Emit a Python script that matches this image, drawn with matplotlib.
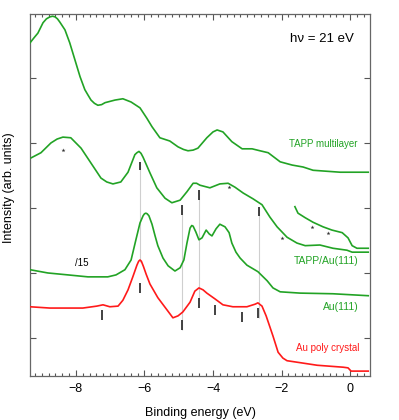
import numpy as np
import matplotlib.pyplot as plt
from matplotlib.ticker import MultipleLocator

plt.rcParams['font.family'] = ['Liberation Sans', 'DejaVu Sans']

GREEN = '#22a325'
RED = '#ff1a1a'

# --- spectra (binding energy eV, intensity arb. units, offset) ---
multi_E = [-9.34, -9.22, -9.11, -8.96, -8.86, -8.76, -8.68, -8.61, -8.54, -8.47, -8.32,
           -8.18, -8.03, -7.88, -7.74, -7.64, -7.56, -7.46, -7.36, -7.25, -7.15, -6.86,
           -6.63, -6.39, -6.13, -5.93, -5.78, -5.55, -5.26, -5.02, -4.86, -4.73, -4.58,
           -4.44, -4.18, -4.00, -3.88, -3.71, -3.45, -3.15, -2.86, -2.63, -2.39, -2.04,
           -1.69, -1.37, -1.08, -0.82, -0.29, 0.53]
multi_I = [4.54, 4.62, 4.69, 4.85, 4.91, 4.94, 4.95, 4.94, 4.91, 4.86, 4.74,
           4.54, 4.28, 4.02, 3.82, 3.73, 3.66, 3.61, 3.58, 3.59, 3.62, 3.66,
           3.68, 3.63, 3.54, 3.38, 3.25, 3.08, 3.03, 2.94, 2.90, 2.88, 2.89,
           2.92, 3.08, 3.17, 3.20, 3.17, 3.02, 2.91, 2.91, 2.88, 2.85, 2.71,
           2.66, 2.63, 2.58, 2.57, 2.55, 2.55]

tapp_E = [-9.31, -9.02, -8.73, -8.55, -8.38, -8.15, -7.85, -7.56, -7.27, -7.10, -6.92,
          -6.69, -6.48, -6.28, -6.22, -6.16, -6.10, -6.04, -5.84, -5.64, -5.40, -5.20,
          -4.96, -4.76, -4.58, -4.48, -4.38, -4.09, -3.80, -3.56, -3.36, -3.12, -2.83,
          -2.57, -2.34, -2.13, -1.84, -1.55, -1.31, -0.88, -0.50, -0.09, 0.06, 0.53]
tapp_I = [2.77, 2.85, 3.00, 3.06, 3.09, 3.08, 2.92, 2.69, 2.46, 2.40, 2.37,
          2.40, 2.55, 2.82, 2.85, 2.87, 2.84, 2.78, 2.54, 2.31, 2.15, 2.08,
          2.12, 2.25, 2.38, 2.38, 2.35, 2.31, 2.37, 2.38, 2.32, 2.23, 2.14,
          2.05, 1.86, 1.71, 1.55, 1.46, 1.42, 1.43, 1.38, 1.35, 1.32, 1.32]

# magnified tail near the Fermi edge
zoom_E = [-1.61, -1.52, -1.31, -1.08, -0.79, -0.53, -0.23, -0.06, 0.06, 0.20, 0.53]
zoom_I = [2.02, 1.92, 1.85, 1.78, 1.71, 1.66, 1.62, 1.54, 1.42, 1.38, 1.38]

au111_E = [-9.34, -8.82, -8.23, -7.65, -7.07, -6.83, -6.57, -6.39, -6.25, -6.13, -6.04,
           -6.00, -5.96, -5.92, -5.87, -5.78, -5.69, -5.61, -5.46, -5.31, -5.11, -4.96,
           -4.85, -4.76, -4.67, -4.62, -4.58, -4.50, -4.41, -4.32, -4.20, -4.11, -4.03,
           -3.91, -3.80, -3.65, -3.53, -3.45, -3.33, -3.21, -3.01, -2.69, -2.42, -2.25,
           -2.04, -1.46, -0.50, 0.53]
au111_I = [1.05, 1.00, 0.97, 0.94, 0.94, 0.97, 1.05, 1.20, 1.51, 1.77, 1.88,
           1.91, 1.92, 1.91, 1.88, 1.75, 1.57, 1.42, 1.23, 1.11, 1.03, 1.08,
           1.20, 1.46, 1.69, 1.73, 1.72, 1.63, 1.51, 1.54, 1.66, 1.60, 1.57,
           1.68, 1.75, 1.71, 1.62, 1.46, 1.32, 1.23, 1.12, 1.02, 0.88, 0.77,
           0.71, 0.69, 0.68, 0.65]

poly_E = [-9.34, -8.76, -7.80, -7.39, -7.21, -7.01, -6.77, -6.63, -6.48, -6.34, -6.22,
          -6.17, -6.13, -6.09, -6.03, -5.95, -5.84, -5.61, -5.34, -5.17, -5.02, -4.88,
          -4.67, -4.53, -4.41, -4.29, -4.18, -3.94, -3.71, -3.42, -3.01, -2.77, -2.69,
          -2.57, -2.45, -2.34, -2.25, -2.10, -1.96, -1.84, -1.46, -0.96, -0.20, -0.06,
          0.03, 0.53]
poly_I = [0.48, 0.46, 0.46, 0.49, 0.51, 0.48, 0.49, 0.58, 0.74, 0.94, 1.12,
          1.18, 1.20, 1.18, 1.10, 0.98, 0.83, 0.62, 0.43, 0.31, 0.34, 0.40,
          0.55, 0.72, 0.77, 0.74, 0.69, 0.60, 0.51, 0.48, 0.48, 0.52, 0.54,
          0.49, 0.34, 0.17, 0.03, -0.22, -0.31, -0.35, -0.38, -0.42, -0.45, -0.46,
          -0.51, -0.51]

# peak markers (energy, bottom, top)
tapp_bar_E = [-6.13, -4.91, -4.41, -2.66]
tapp_bar_lo = [2.58, 1.89, 2.12, 1.88]
tapp_bar_hi = [2.71, 2.05, 2.28, 2.02]
poly_bar_E = [-7.24, -6.13, -4.91, -4.41, -3.94, -3.15, -2.69]
poly_bar_lo = [0.28, 0.69, 0.12, 0.46, 0.35, 0.25, 0.31]
poly_bar_hi = [0.43, 0.85, 0.28, 0.62, 0.51, 0.40, 0.46]

# guide lines linking common features
guide_E = [-6.13, -4.91, -4.41, -2.66]
guide_lo = [1.17, 0.12, 0.58, 0.31]
guide_hi = [2.71, 2.05, 2.28, 2.02]

# satellite features (asterisks)
star_E = [-8.38, -3.53, -1.99, -1.11, -0.64]
star_I = [2.89, 2.32, 1.54, 1.71, 1.62]

fig = plt.figure(figsize=(3.99, 4.2), dpi=100)
ax = fig.add_axes([0.0752, 0.1048, 0.852, 0.862])

ax.vlines(guide_E, guide_lo, guide_hi, color='#cfcfcf', lw=0.8, zorder=1)

ax.plot(multi_E, multi_I, color=GREEN, lw=1.2, zorder=3)
ax.plot(tapp_E, tapp_I, color=GREEN, lw=1.2, zorder=3)
ax.plot(zoom_E, zoom_I, color=GREEN, lw=1.2, zorder=3)
ax.plot(au111_E, au111_I, color=GREEN, lw=1.2, zorder=3)
ax.plot(poly_E, poly_I, color=RED, lw=1.2, zorder=3)

ax.vlines(tapp_bar_E, tapp_bar_lo, tapp_bar_hi, color='#333333', lw=1.3, zorder=4)
ax.vlines(poly_bar_E, poly_bar_lo, poly_bar_hi, color='#333333', lw=1.3, zorder=4)
ax.plot(star_E, star_I, ls='none', marker='*', ms=3, mew=0, color='#333333', zorder=4)

ax.text(0.12, 4.60, 'h\u03bd = 21 eV', ha='right', va='center', fontsize=9.5)
ax.text(0.23, 2.98, 'TAPP multilayer', ha='right', va='center', fontsize=7, color=GREEN)
ax.text(0.26, 1.18, 'TAPP/Au(111)', ha='right', va='center', fontsize=7.5, color=GREEN)
ax.text(0.26, 0.48, 'Au(111)', ha='right', va='center', fontsize=7.5, color=GREEN)
ax.text(0.26, -0.15, 'Au poly crystal', ha='right', va='center', fontsize=7, color=RED)
ax.text(-8.03, 1.15, '/15', ha='left', va='center', fontsize=7)

ax.set_xlim(-9.34, 0.58)
ax.set_ylim(-0.585, 4.985)
ax.xaxis.set_major_locator(MultipleLocator(2))
ax.xaxis.set_minor_locator(MultipleLocator(0.2))
ax.set_yticks([0, 1, 2, 3, 4])
ax.set_yticklabels([])
ax.tick_params(which='both', direction='in', top=True, right=True, colors='#555555',
               labelcolor='black', labelsize=9, width=0.8)
ax.tick_params(which='major', length=4.5)
ax.tick_params(which='minor', length=2)
ax.tick_params(axis='x', pad=5)
for s in ax.spines.values():
    s.set_color('#666666')
    s.set_linewidth(0.9)

ax.set_xlabel('Binding energy (eV)', fontsize=9, labelpad=9)
ax.set_ylabel('Intensity (arb. units)', fontsize=9)
ax.yaxis.set_label_coords(-0.044, 0.52)

fig.savefig('out.png', dpi=100)
